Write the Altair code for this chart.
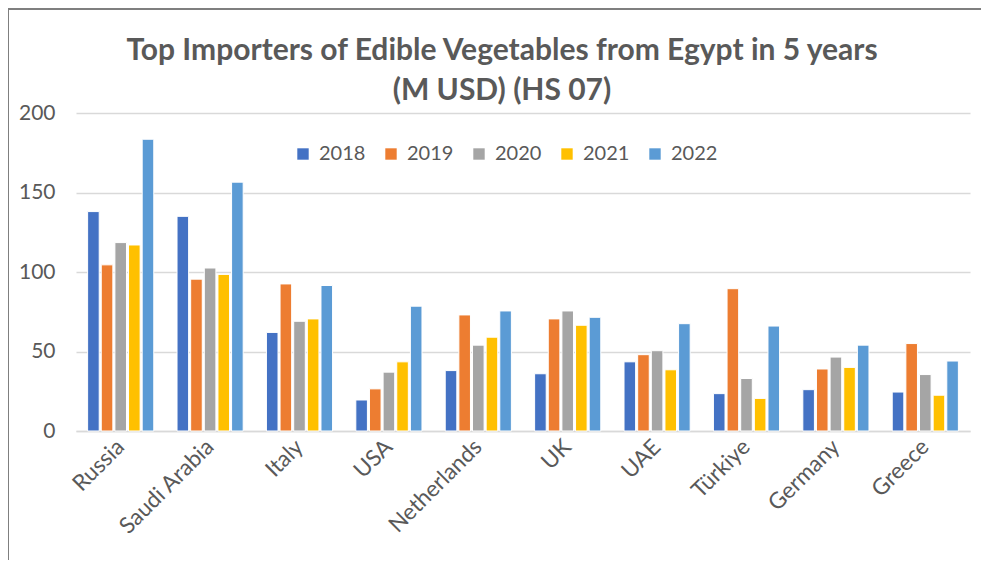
import altair as alt
import pandas as pd

countries = ["Russia", "Saudi Arabia", "Italy", "USA", "Netherlands", "UK", "UAE", "Türkiye", "Germany", "Greece"]
years = ["2018", "2019", "2020", "2021", "2022"]
v2018 = [138, 135, 62, 19.5, 38, 36, 43.5, 23.5, 26, 24.5]
v2019 = [104.5, 95.5, 92.5, 26.5, 73, 70.5, 48, 89.5, 39, 55]
v2020 = [118.5, 102.5, 69, 37, 54, 75.5, 50.5, 33, 46.5, 35.5]
v2021 = [117, 98.5, 70.5, 43.5, 59, 66.5, 38.5, 20.5, 40, 22.5]
v2022 = [183.5, 156.5, 91.5, 78.5, 75.5, 71.5, 67.5, 66, 54, 44]
colors = ["#4472C4", "#ED7D31", "#A5A5A5", "#FFC000", "#5B9BD5"]

series = [v2018, v2019, v2020, v2021, v2022]
rows = []
for y, vals in zip(years, series):
    for c, v in zip(countries, vals):
        rows.append({"Country": c, "Year": y, "Value": v})
df = pd.DataFrame(rows)

FONT = "Lato"
TXT = "#595959"

bars = alt.Chart(df).mark_bar(stroke="white", strokeWidth=1).encode(
    x=alt.X("Country:N", sort=countries, title=None,
            scale=alt.Scale(paddingInner=0.26, paddingOuter=0.13),
            axis=alt.Axis(labelAngle=-45, labelAlign="right", labelBaseline="middle",
                          labelFontSize=22.5, labelColor=TXT, labelFont=FONT,
                          labelPadding=12, ticks=False, domainColor="#D9D9D9",
                          domainWidth=1.5, grid=False)),
    xOffset=alt.XOffset("Year:N", sort=years, scale=alt.Scale(paddingInner=0.15)),
    y=alt.Y("Value:Q", title=None,
            scale=alt.Scale(domain=[0, 200], nice=False),
            axis=alt.Axis(values=[0, 50, 100, 150, 200], labelFontSize=21, labelColor=TXT,
                          labelFont=FONT, labelPadding=21, ticks=False, domain=False,
                          gridColor="#D9D9D9", gridWidth=1.5)),
    color=alt.Color("Year:N", sort=years,
                    scale=alt.Scale(domain=years, range=colors),
                    legend=alt.Legend(title=None, orient="none", direction="horizontal",
                                      legendX=217, legendY=31, symbolType="square",
                                      symbolSize=130, symbolStrokeWidth=0,
                                      labelFontSize=20, labelColor=TXT, labelFont=FONT,
                                      columnPadding=15, labelOffset=6, padding=0)),
)

one = pd.DataFrame({"k": [0]})
frame_left = alt.Chart(one).mark_rule(color="#7F7F7F", strokeWidth=2).encode(
    x=alt.value(-68), y=alt.value(-104), y2=alt.value(480))
frame_top = alt.Chart(one).mark_rule(color="#7F7F7F", strokeWidth=2).encode(
    x=alt.value(-68), x2=alt.value(960), y=alt.value(-104))

chart = alt.layer(bars, frame_left, frame_top).properties(
    width=894, height=318,
    padding={"left": 68, "top": 105, "right": 11, "bottom": 129},
    autosize=alt.AutoSizeParams(type="none"),
    background="white",
    title=alt.TitleParams(
        ["Top Importers of Edible Vegetables from Egypt in 5 years", "(M USD) (HS 07)"],
        font=FONT, fontSize=30, fontWeight="bold", color=TXT, anchor="middle",
        dx=-21, offset=-98, lineHeight=40),
).configure_view(stroke="transparent", strokeWidth=0)

chart.save("out.html", embed_options={"renderer": "svg", "actions": False})
